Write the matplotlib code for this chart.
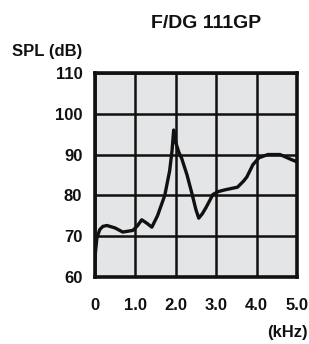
import matplotlib
matplotlib.use("Agg")
import matplotlib.pyplot as plt

plt.rcParams["font.family"] = ["Liberation Sans", "DejaVu Sans"]

# frequency response
freq_khz = [0.0, 0.02, 0.05, 0.12, 0.20, 0.30, 0.50, 0.69, 0.94, 1.05, 1.16,
            1.28, 1.41, 1.55, 1.73, 1.85, 1.91, 1.95, 2.00, 2.08, 2.15, 2.28,
            2.40, 2.50, 2.57, 2.66, 2.75, 2.92, 3.05, 3.20, 3.53, 3.68, 3.76,
            3.91, 4.06, 4.28, 4.58, 4.83, 5.0]
spl_db = [64.5, 66.6, 69.5, 71.6, 72.4, 72.6, 72.0, 71.0, 71.4, 72.5, 74.0,
          73.2, 72.2, 75.0, 80.0, 86.0, 91.0, 96.0, 93.0, 90.5, 89.0, 85.0,
          80.5, 76.5, 74.4, 75.5, 77.0, 80.2, 80.9, 81.3, 82.0, 83.5, 84.5,
          87.5, 89.2, 90.0, 90.0, 88.9, 88.2]

x_ticks = [0, 1, 2, 3, 4, 5]
x_labels = ["0", "1.0", "2.0", "3.0", "4.0", "5.0"]
y_ticks = [60, 70, 80, 90, 100, 110]

fig = plt.figure(figsize=(3.09, 3.44), dpi=100, facecolor="white")
ax = fig.add_axes([0.307, 0.195, 0.654, 0.593])
ax.set_facecolor("#e4e5e7")

ax.plot(freq_khz, spl_db, color="#111111", linewidth=2.4, zorder=3)

ax.set_xlim(0, 5)
ax.set_ylim(60, 110)
ax.set_xticks(x_ticks)
ax.set_xticklabels(x_labels)
ax.set_yticks(y_ticks)
ax.grid(True, color="#111111", linewidth=1.8)
ax.set_axisbelow(True)
for s in ax.spines.values():
    s.set_linewidth(2.6)
    s.set_color("#111111")
ax.tick_params(length=0, labelsize=12, colors="#111111")
ax.tick_params(axis="x", pad=15)
ax.tick_params(axis="y", pad=9)
for lbl in ax.get_xticklabels() + ax.get_yticklabels():
    lbl.set_fontweight("bold")

txt = dict(fontweight="bold", color="#111111", va="baseline")
fig.text(206 / 309, 1 - 28 / 344, "F/DG 111GP", ha="center", fontsize=14, **txt)
fig.text(12 / 309, 1 - 56 / 344, "SPL (dB)", ha="left", fontsize=12, **txt)
fig.text(308 / 309, 1 - 337 / 344, "(kHz)", ha="right", fontsize=12, **txt)

fig.savefig("out.png", dpi=100, facecolor="white")
